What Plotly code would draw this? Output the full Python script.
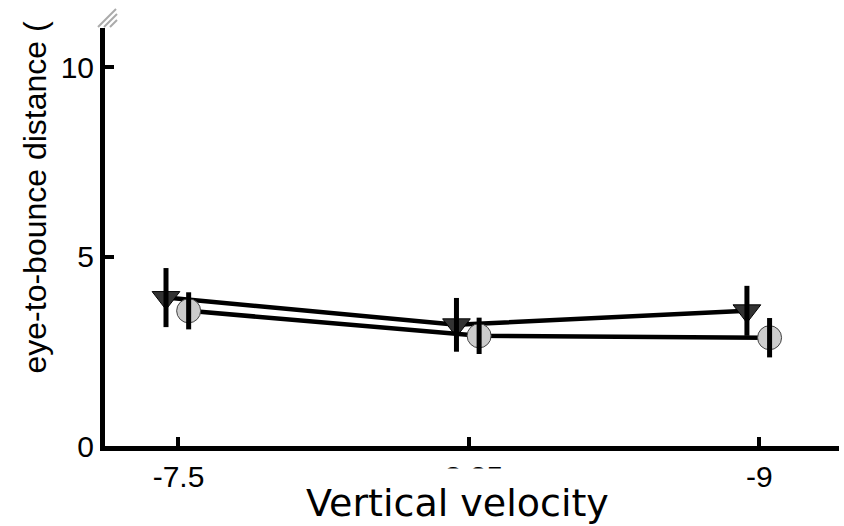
import plotly.graph_objects as go

# ---- data ----
categories = ["-7.5", "-8.25", "-9"]
tri_values = [3.92, 3.20, 3.57]
tri_errors = [0.78, 0.71, 0.66]
circ_values = [3.57, 2.91, 2.86]
circ_errors = [0.49, 0.48, 0.52]
y_ticks = [0, 5, 10]

# ---- layout geometry (pixels) ----
W, H = 844, 526
L, R, T, B = 105, 5, 28, 80
PW, PH = W - L - R, H - T - B

def px_x(p):
    return (p - L) / PW

def px_y(p):
    return (H - B - p) / PH

pos = list(range(len(categories)))
tri_x = [p - 0.043 for p in pos]
circ_x = [p + 0.035 for p in pos]

fig = go.Figure()

def add_series(xs, ys, errs, symbol, fill, outline):
    fig.add_trace(go.Scatter(x=xs, y=ys, mode="lines",
                             line=dict(color="black", width=4.5),
                             hoverinfo="skip", showlegend=False))
    fig.add_trace(go.Scatter(x=xs, y=ys, mode="markers",
                             marker=dict(symbol=symbol, size=24, color=fill,
                                         line=dict(color=outline, width=1)),
                             hoverinfo="skip", showlegend=False))
    fig.add_trace(go.Scatter(x=xs, y=ys, mode="markers",
                             marker=dict(size=2, opacity=0),
                             error_y=dict(type="data", array=errs, visible=True,
                                          thickness=5, width=0, color="black"),
                             hoverinfo="skip", showlegend=False))

add_series(tri_x, tri_values, tri_errors, "triangle-down", "#333333", "black")
add_series(circ_x, circ_values, circ_errors, "circle", "#cccccc", "#444444")

tick_font = dict(family="Liberation Sans, Arial, sans-serif", size=30, color="black")

fig.update_xaxes(range=[-0.253, 2.274], tickmode="array", tickvals=pos,
                 ticktext=categories, showgrid=False, zeroline=False,
                 showline=True, linecolor="black", linewidth=5,
                 ticks="inside", ticklen=9, tickwidth=4, tickcolor="black",
                 tickfont=tick_font)
fig.update_yaxes(range=[0, 11.04], tickmode="array", tickvals=y_ticks,
                 ticktext=[str(v) for v in y_ticks], showgrid=False, zeroline=False,
                 showline=True, linecolor="black", linewidth=5,
                 ticks="inside", ticklen=9, tickwidth=4, tickcolor="black",
                 tickfont=tick_font)

annotations = [
    dict(text="Vertical velocity", xref="paper", yref="paper",
         x=px_x(457.5), y=px_y(468), xanchor="center", yanchor="top",
         showarrow=False, bgcolor="white", borderpad=12,
         font=dict(family="DejaVu Sans", size=38, color="black")),
    dict(text="eye-to-bounce distance (", xref="paper", yref="paper",
         x=px_x(34), y=px_y(376), xanchor="center", yanchor="bottom",
         textangle=-90, showarrow=False,
         font=dict(family="Liberation Sans, Arial, sans-serif", size=32, color="black")),
]

shapes = []
for (x0, y0, x1, y1) in [(98, 27, 116, 9), (104, 27, 117, 14), (110, 27, 117, 20)]:
    shapes.append(dict(type="line", xref="paper", yref="paper",
                       x0=px_x(x0), y0=px_y(y0), x1=px_x(x1), y1=px_y(y1),
                       line=dict(color="#aaaaaa", width=2)))

fig.update_layout(width=W, height=H, margin=dict(l=L, r=R, t=T, b=B),
                  paper_bgcolor="white", plot_bgcolor="white",
                  showlegend=False, hovermode=False,
                  annotations=annotations, shapes=shapes)

fig.write_html("out.html")
